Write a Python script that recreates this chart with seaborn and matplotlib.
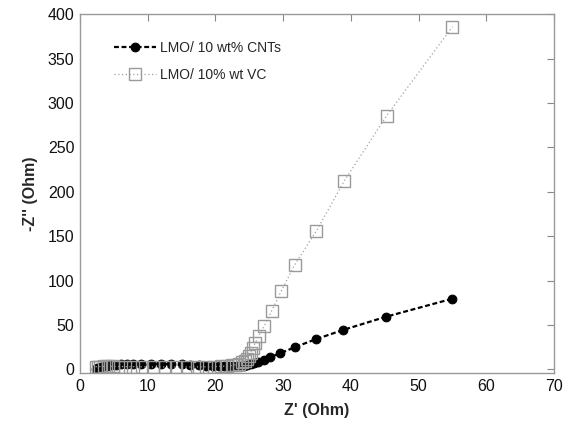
import matplotlib
matplotlib.use("Agg")
import matplotlib.pyplot as plt
import seaborn as sns
import pandas as pd

cnt_x = [2.3, 2.5, 2.8, 3.1, 3.5, 4.0, 4.6, 5.3, 6.0, 6.9, 7.8, 9.0, 10.5, 12.0, 13.5, 15.0,
         16.3, 17.5, 18.6, 19.6, 20.5, 21.3, 22.0, 22.6, 23.2, 23.7, 24.2, 24.7, 25.2, 25.7,
         26.3, 27.1, 28.1, 29.5, 31.7, 34.8, 38.9, 45.2, 55.0]
cnt_y = [0.5, 1.2, 2.0, 2.8, 3.6, 4.3, 5.0, 5.5, 6.0, 6.3, 6.5, 6.6, 6.6, 6.4, 6.0, 5.6,
         5.2, 4.8, 4.4, 4.0, 3.7, 3.5, 3.4, 3.4, 3.5, 3.8, 4.3, 5.0, 5.9, 7.0,
         8.5, 10.8, 14.0, 18.0, 25.0, 34.0, 44.6, 59.4, 79.7]

vc_x = [2.3, 2.6, 3.0, 3.5, 4.1, 4.8, 5.6, 6.6, 7.8, 9.2, 10.8, 12.5, 14.2, 15.8, 17.3, 18.6,
        19.8, 20.8, 21.7, 22.4, 23.0, 23.5, 23.9, 24.3, 24.6, 24.9, 25.2, 25.5, 25.9, 26.4,
        27.2, 28.3, 29.7, 31.7, 34.9, 39.0, 45.3, 55.0]
vc_y = [3.0, 3.2, 3.3, 3.4, 3.4, 3.4, 3.3, 3.2, 3.1, 3.0, 2.9, 2.8, 2.8, 2.8, 2.9, 3.0,
        3.2, 3.5, 3.9, 4.5, 5.3, 6.5, 8.0, 10.0, 12.0, 15.0, 19.0, 24.0, 30.0, 38.0,
        49.0, 66.0, 88.0, 118.0, 156.0, 212.0, 286.0, 386.0]

labels = ["LMO/ 10 wt% CNTs", "LMO/ 10% wt VC"]
x_ticks = [0, 10, 20, 30, 40, 50, 60, 70]
y_ticks = [0, 50, 100, 150, 200, 250, 300, 350, 400]

sns.set_style("white")
plt.rcParams["font.family"] = ["Liberation Sans", "DejaVu Sans"]

df_cnt = pd.DataFrame({"x": cnt_x, "y": cnt_y})
df_vc = pd.DataFrame({"x": vc_x, "y": vc_y})

fig = plt.figure(figsize=(5.65, 4.21), dpi=100)
ax = fig.add_axes([0.1416, 0.114, 0.8390, 0.852])

sns.lineplot(data=df_cnt, x="x", y="y", ax=ax, sort=False, color="black",
             linestyle=(0, (2.2, 1.2)), linewidth=1.6, marker="o", markersize=6.3,
             markeredgecolor="black", markerfacecolor="black", label=labels[0])
sns.lineplot(data=df_vc, x="x", y="y", ax=ax, sort=False, color="#a0a0a0",
             linestyle=(0, (1, 2)), linewidth=0.9, marker="s", markersize=9,
             markeredgecolor="#9a9a9a", markerfacecolor="none", markeredgewidth=1.0,
             label=labels[1])

ax.set_xlim(0, 70)
ax.set_ylim(-4, 400)
ax.set_xticks(x_ticks)
ax.set_yticks(y_ticks)
ax.tick_params(direction="in", length=5, width=0.8, color="#888888",
               top=True, right=True, labelsize=11.5, labelcolor="#111111", pad=4)
for s in ax.spines.values():
    s.set_color("#999999")
    s.set_linewidth(1.0)

ax.set_xlabel("Z' (Ohm)", fontsize=11.5, fontweight="bold", labelpad=7)
ax.set_ylabel("-Z'' (Ohm)", fontsize=11.5, fontweight="bold", labelpad=7)

leg = ax.legend(loc="upper left", bbox_to_anchor=(0.045, 0.96), frameon=False,
                fontsize=10, handlelength=3.0, handletextpad=0.35, labelspacing=0.9)

fig.savefig("out.png", dpi=100)
